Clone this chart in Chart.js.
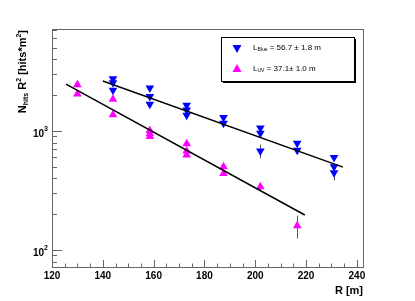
<!DOCTYPE html>
<html>
<head>
<meta charset="utf-8">
<script src="https://cdn.jsdelivr.net/npm/chart.js@4.4.0/dist/chart.umd.min.js"></script>
<style>
  html, body { margin: 0; padding: 0; background: #fff; }
</style>
</head>
<body>
<canvas id="myChart" width="415" height="301"></canvas>
<script>
// ---- data ----
const rBlue = [144, 144, 144, 158.5, 158.5, 158.5, 173, 173, 173, 187.5, 187.5, 202, 202, 202, 216.5, 216.5, 231, 231, 231];
const nBlue = [2750, 2550, 2200, 2300, 1950, 1680, 1650, 1500, 1360, 1300, 1160, 1060, 960, 680, 790, 690, 600, 500, 445];
const errBlue = [60, 60, 60, 50, 45, 45, 40, 40, 40, 35, 35, 30, 30, 90, 25, 25, 25, 25, 60];

const rUV = [130, 130, 144, 144, 158.5, 158.5, 158.5, 173, 173, 173, 187.5, 187.5, 202, 216.5];
const nUV = [2450, 2050, 1850, 1370, 1010, 950, 900, 780, 680, 630, 500, 440, 340, 160];
const errUV = [60, 55, 50, 40, 30, 30, 30, 25, 25, 25, 20, 20, 20, 35];

// fitted exponentials (end points of the drawn lines)
const fitBlueR = [140, 234.5];
const fitBlueN = [2630, 497];
const fitUVR = [125.5, 219.5];
const fitUVN = [2480, 197];

const xTicks = [120, 140, 160, 180, 200, 220, 240];
const yDecades = [2, 3];
const legendLabels = [
   { main: 'L', sub: 'Blue', rest: ' = 56.7 \u00b1 1.8 m' },
   { main: 'L', sub: 'UV', rest: ' = 37.1\u00b1 1.0 m' }
];

const toPoints = (xs, ys) => xs.map((x, i) => ({ x: x, y: ys[i] }));

/* ---------------------------------------------------------------------------------*/
/* Helpers */
/* ---------------------------------------------------------------------------------*/

// draw text made of pieces (sub/superscripts), returns width
const richWidth = (ctx, parts) => {
   let w = 0;
   parts.forEach(p => { ctx.font = p.font; w += ctx.measureText(p.t).width; });
   return w;
};
const drawRich = (ctx, parts, x, y) => {
   let cx = x;
   parts.forEach(p => {
      ctx.font = p.font;
      ctx.fillText(p.t, cx, y + (p.dy || 0));
      cx += ctx.measureText(p.t).width;
   });
};

const triangle = (ctx, x, y, r, down, color) => {
   const s = down ? -1 : 1;
   ctx.fillStyle = color;
   ctx.beginPath();
   ctx.moveTo(x, y - s * r);
   ctx.lineTo(x + r * 0.9, y + s * r * 0.6);
   ctx.lineTo(x - r * 0.9, y + s * r * 0.6);
   ctx.closePath();
   ctx.fill();
};

/* ---------------------------------------------------------------------------------*/
/* ROOT-like frame, ticks, labels, legend */
/* ---------------------------------------------------------------------------------*/
const rootStyle = {
   id: 'rootStyle',
   beforeDatasetsDraw(chart) {
      const ctx = chart.ctx;
      const xs = chart.scales.x, ys = chart.scales.y;
      ctx.save();
      ctx.strokeStyle = '#555';
      ctx.lineWidth = 1;
      const bars = (rs, ns, es) => rs.forEach((r, i) => {
         const px = Math.round(xs.getPixelForValue(r)) + 0.5;
         ctx.beginPath();
         ctx.moveTo(px, ys.getPixelForValue(ns[i] + es[i]));
         ctx.lineTo(px, ys.getPixelForValue(ns[i] - es[i]));
         ctx.stroke();
      });
      bars(rBlue, nBlue, errBlue);
      bars(rUV, nUV, errUV);
      ctx.restore();
   },
   afterDraw(chart) {
      const ctx = chart.ctx;
      const a = chart.chartArea;
      const xs = chart.scales.x, ys = chart.scales.y;
      ctx.save();

      // frame
      ctx.strokeStyle = '#666';
      ctx.lineWidth = 1;
      ctx.strokeRect(Math.round(a.left) + 0.5, Math.round(a.top) + 0.5,
         Math.round(a.right - a.left), Math.round(a.bottom - a.top));

      // x ticks
      ctx.beginPath();
      for (let v = 120; v <= xs.max; v += 5) {
         const px = Math.round(xs.getPixelForValue(v)) + 0.5;
         const len = v % 20 === 0 ? 7 : 3.5;
         ctx.moveTo(px, a.bottom);
         ctx.lineTo(px, a.bottom - len);
      }
      // y ticks
      for (let d = 1; d <= 3; d++) {
         for (let m = 1; m <= 9; m++) {
            const v = m * Math.pow(10, d);
            if (v < ys.min || v > ys.max) continue;
            const py = Math.round(ys.getPixelForValue(v)) + 0.5;
            const len = m === 1 ? 10 : 5;
            ctx.moveTo(a.left, py);
            ctx.lineTo(a.left + len, py);
         }
      }
      ctx.stroke();

      ctx.fillStyle = '#000';
      // x labels
      ctx.font = 'bold 10px "Liberation Sans", Arial, sans-serif';
      ctx.textAlign = 'center';
      ctx.textBaseline = 'middle';
      xTicks.forEach(v => ctx.fillText(String(v), xs.getPixelForValue(v), 276));

      // y labels 10^n
      ctx.textAlign = 'left';
      yDecades.forEach(d => {
         const py = ys.getPixelForValue(Math.pow(10, d));
         const parts = [
            { t: '10', font: 'bold 10px "Liberation Sans", Arial, sans-serif', dy: 3 },
            { t: String(d), font: 'bold 7px "Liberation Sans", Arial, sans-serif', dy: -2 }
         ];
         const w = richWidth(ctx, parts);
         drawRich(ctx, parts, a.left - 4 - w, py, parts);
      });

      // x title
      ctx.font = 'bold 11px "Liberation Sans", Arial, sans-serif';
      ctx.textAlign = 'right';
      ctx.fillText('R [m]', a.right, 291);

      // y title
      ctx.save();
      ctx.translate(23, a.top + 1);
      ctx.rotate(-Math.PI / 2);
      ctx.textAlign = 'left';
      const big = 'bold 11px "Liberation Sans", Arial, sans-serif';
      const small = 'bold 7px "Liberation Sans", Arial, sans-serif';
      const title = [
         { t: 'N', font: big },
         { t: 'hits', font: small, dy: 3 },
         { t: ' R', font: big },
         { t: '2', font: small, dy: -4 },
         { t: ' [hits*m', font: big },
         { t: '2', font: small, dy: -4 },
         { t: ']', font: big }
      ];
      drawRich(ctx, title, -richWidth(ctx, title), 0);
      ctx.restore();

      // legend box with shadow
      const lx = 221, ly = 37, lw = 133, lh = 44;
      ctx.fillStyle = '#000';
      ctx.fillRect(lx + 2, ly + 2, lw, lh);
      ctx.fillStyle = '#fff';
      ctx.fillRect(lx, ly, lw, lh);
      ctx.strokeStyle = '#000';
      ctx.strokeRect(lx + 0.5, ly + 0.5, lw, lh);

      triangle(ctx, 237, 48, 5, true, '#0000ff');
      triangle(ctx, 237, 69, 5, false, '#ff00ff');

      ctx.fillStyle = '#000';
      ctx.textAlign = 'left';
      ctx.textBaseline = 'middle';
      const lf = '8px "Liberation Sans", Arial, sans-serif';
      const lfs = '5px "Liberation Sans", Arial, sans-serif';
      legendLabels.forEach((l, i) => {
         drawRich(ctx, [
            { t: l.main, font: lf },
            { t: l.sub, font: lfs, dy: 2 },
            { t: l.rest, font: lf }
         ], 253, 48 + i * 21);
      });

      ctx.restore();
   }
};

/* ---------------------------------------------------------------------------------*/
/* Chart */
/* ---------------------------------------------------------------------------------*/
const ctx = document.querySelector('#myChart');

const data = {
   datasets: [
      {
         label: 'fit blue',
         data: toPoints(fitBlueR, fitBlueN),
         showLine: true,
         borderColor: '#000',
         borderWidth: 1.5,
         pointRadius: 0
      },
      {
         label: 'fit uv',
         data: toPoints(fitUVR, fitUVN),
         showLine: true,
         borderColor: '#000',
         borderWidth: 1.5,
         pointRadius: 0
      },
      {
         label: 'Blue',
         data: toPoints(rBlue, nBlue),
         pointStyle: 'triangle',
         rotation: 180,
         pointRadius: 5,
         backgroundColor: '#0000ff',
         borderColor: '#0000ff',
         borderWidth: 0
      },
      {
         label: 'UV',
         data: toPoints(rUV, nUV),
         pointStyle: 'triangle',
         pointRadius: 5,
         backgroundColor: '#ff00ff',
         borderColor: '#ff00ff',
         borderWidth: 0
      }
   ]
};

const config = {
   type: 'scatter',
   data: data,
   options: {
      responsive: false,
      animation: false,
      layout: { padding: { left: 52, right: 52, top: 29, bottom: 34 } },
      scales: {
         x: { type: 'linear', min: 120, max: 242.4, display: false },
         y: { type: 'logarithmic', min: 72, max: 7200, display: false }
      },
      plugins: {
         legend: { display: false },
         tooltip: { enabled: false }
      }
   },
   plugins: [rootStyle]
};

const rChart = new Chart(ctx, config);
</script>
</body>
</html>
